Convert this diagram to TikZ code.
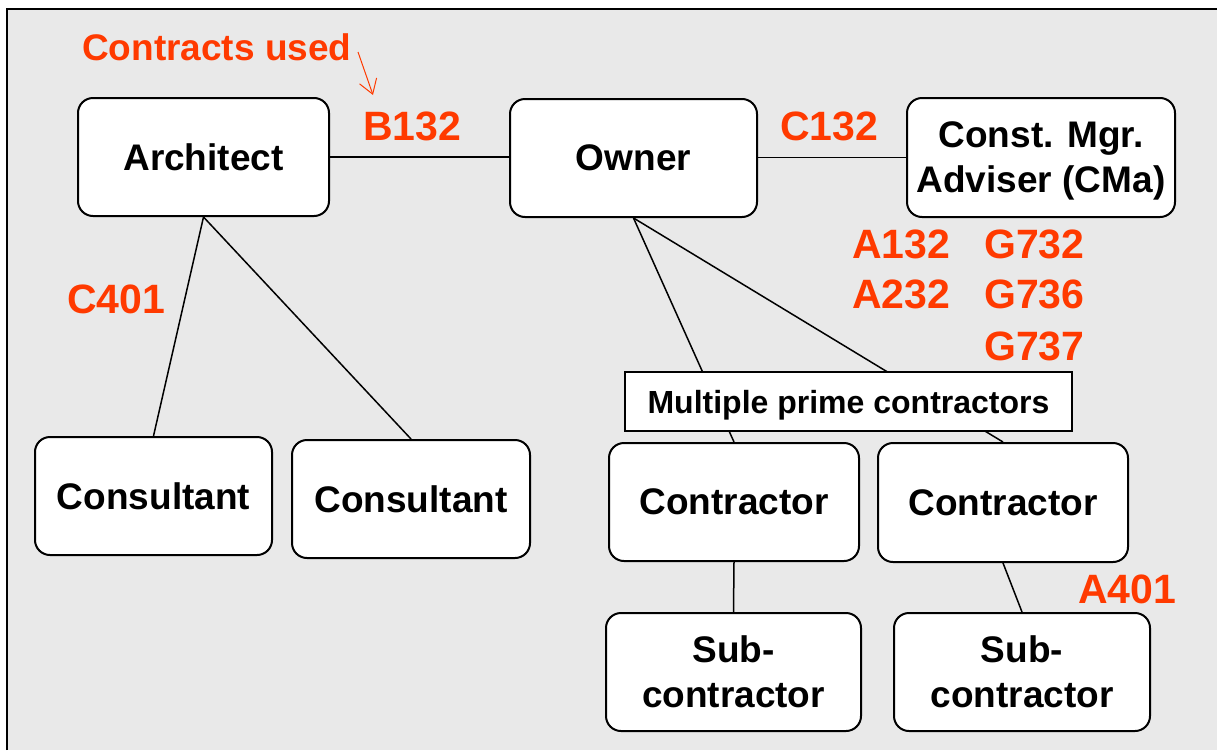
\documentclass[tikz,border=0pt]{standalone}
\usepackage{fontspec}
\setmainfont{Liberation Sans}
\usetikzlibrary{arrows.meta}
\definecolor{cred}{RGB}{255,58,0}
\definecolor{bg}{RGB}{233,233,233}
\begin{document}
\begin{tikzpicture}[x=1pt,y=-1pt,
  box/.style={draw=black, line width=2pt, fill=white, rounded corners=15pt, inner sep=0pt,
    font=\fontsize{37}{37}\selectfont\bfseries, align=center},
  lab/.style={text=cred, inner sep=0pt, anchor=base west, font=\fontsize{41}{41}\selectfont\bfseries},
  link/.style={line width=1.5pt, draw=black}]
\useasboundingbox (0,0) rectangle (1217,750);
\fill[bg] (6.5,8.5) rectangle (1217,750);
\draw[line width=2pt] (6.5,750) -- (6.5,8.5) -- (1217,8.5);

\node[box, minimum width=251pt, minimum height=118pt] (arch) at (203.5,157) {Architect};
\node[box, minimum width=247pt, minimum height=118pt] (owner) at (633.5,158) {Owner};
\node[box, minimum width=268pt, minimum height=119pt, text depth=0pt, font=\fontsize{37}{45}\selectfont\bfseries] (cma) at (1041,157.5) {Const. Mgr.\\Adviser (CMa)};
\node[box, minimum width=237pt, minimum height=118pt] (cons1) at (153.5,496) {Consultant};
\node[box, minimum width=238pt, minimum height=118pt] (cons2) at (411,499) {Consultant};
\node[box, minimum width=250pt, minimum height=118pt] (ctr1) at (734,502) {Contractor};
\node[box, minimum width=250pt, minimum height=119pt] (ctr2) at (1003,502.5) {Contractor};
\node[box, minimum width=255pt, minimum height=118pt, font=\fontsize{37}{45}\selectfont\bfseries] (sub1) at (733.5,672) {Sub-\\contractor};
\node[box, minimum width=256pt, minimum height=118pt, font=\fontsize{37}{45}\selectfont\bfseries] (sub2) at (1022,672) {Sub-\\contractor};

\draw[link] (arch.east) -- (owner.west |- arch.east);
\draw[link] (owner.east |- cma.west) -- (cma.west);
\draw[link] (arch.south) -- (cons1.north);
\draw[link] (arch.south) -- (cons2.north);
\draw[link] (owner.south) -- (ctr1.north);
\draw[link] (owner.south) -- (ctr2.north);
\draw[link] (ctr1.south) -- (sub1.north);
\draw[link] (ctr2.south) -- (sub2.north);

\node[box, rounded corners=0pt, minimum width=447pt, minimum height=59pt, text depth=0pt, font=\fontsize{32}{32}\selectfont\bfseries] (mpc) at (848.5,401.5) {Multiple prime contractors};

\node[lab, font=\fontsize{37}{37}\selectfont\bfseries] (used) at (82,60) {Contracts used};
\node[lab] (b132) at (363,140) {B132};
\node[lab] (c132) at (780,140) {C132};
\node[lab] (c401) at (67,313) {C401};
\node[lab] (a401) at (1078,603) {A401};
\node[lab] (a132) at (852,258) {A132};
\node[lab] (a232) at (852,308) {A232};
\node[lab] (g732) at (984,258) {G732};
\node[lab] (g736) at (984,308) {G736};
\node[lab] (g737) at (984,360) {G737};

\coordinate (ta) at (358,52);
\coordinate (tb) at (373,95);
\draw[cred, line width=1pt, -{Straight Barb[length=14pt,width=18pt]}] (ta) -- (tb);
\end{tikzpicture}
\end{document}
